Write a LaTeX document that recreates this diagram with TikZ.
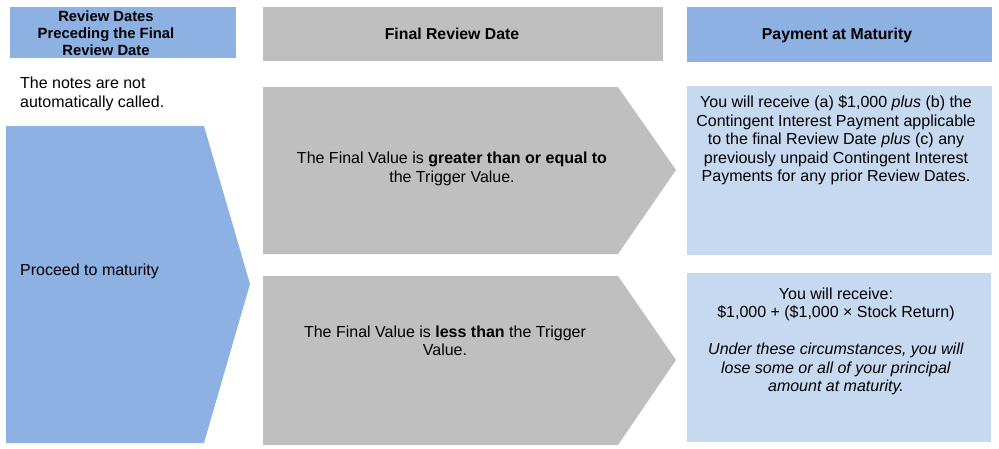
\documentclass[tikz,border=0pt]{standalone}
\usepackage{fontspec}
\setmainfont{Liberation Sans}
\definecolor{hdrblue}{HTML}{8DB1E2}
\definecolor{hdrgray}{HTML}{BFBFBF}
\definecolor{lightblue}{HTML}{C6D9F1}
\begin{document}
\begin{tikzpicture}[x=1pt,y=-1pt,
  body/.style={font=\fontsize{16}{18.5}\selectfont, inner sep=0pt, align=center},
  hdr/.style={font=\fontsize{15.8}{17}\selectfont\bfseries, inner sep=0pt, align=center},
  hdrsmall/.style={font=\fontsize{14.8}{17}\selectfont\bfseries, inner sep=0pt, align=center}]
\useasboundingbox (0,0) rectangle (999,448);
% headers
\fill[hdrblue] (10,7) rectangle (236,58);
\fill[hdrgray] (263,7) rectangle (663,61);
\fill[hdrblue] (687,7) rectangle (992,62);
\node[hdrsmall] (h1) at (106,33) {Review Dates\\Preceding the Final\\Review Date};
\node[hdr] (h2) at (452,34) {Final Review Date};
\node[hdr] (h3) at (837,35) {Payment at Maturity};
% left column
\node[body, anchor=west, align=left] (notcalled) at (20,94) {The notes are not\\automatically called.};
\fill[hdrblue] (6,126) -- (204,126) -- (250,284) -- (204,443) -- (6,443) -- cycle;
\node[body, anchor=west] (proceed) at (20,271) {Proceed to maturity};
% middle arrows
\fill[hdrgray] (263,87) -- (618,87) -- (676,170) -- (618,254) -- (263,254) -- cycle;
\fill[hdrgray] (263,276) -- (618,276) -- (676,360) -- (618,445) -- (263,445) -- cycle;
\node[body] (up) at (452,169) {The Final Value is \textbf{greater than or equal to}\\the Trigger Value.};
\node[body] (down) at (445,341) {The Final Value is \textbf{less than} the Trigger\\Value.};
% right boxes
\fill[lightblue] (687,86) rectangle (992,255);
\fill[lightblue] (687,273) rectangle (991,442);
\node[body] (pay1) at (836,140.5) {You will receive (a) \$1,000 \textit{plus} (b) the\\Contingent Interest Payment applicable\\to the final Review Date \textit{plus} (c) any\\previously unpaid Contingent Interest\\Payments for any prior Review Dates.};
\node[body] (pay2) at (836,341.5) {You will receive:\\\$1,000 + (\$1,000 × Stock Return)\\[18.5pt]\textit{Under these circumstances, you will}\\\textit{lose some or all of your principal}\\\textit{amount at maturity.}};
\end{tikzpicture}
\end{document}
